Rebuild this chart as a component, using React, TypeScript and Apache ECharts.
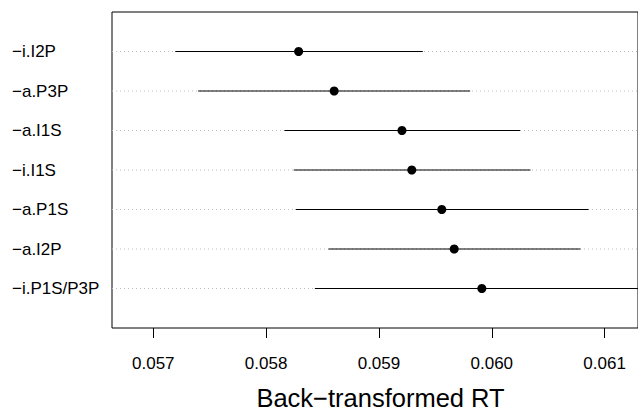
import React, { useEffect, useRef } from "react";
import * as echarts from "echarts";

const categories = ["−i.I2P", "−a.P3P", "−a.I1S", "−i.I1S", "−a.P1S", "−a.I2P", "−i.P1S/P3P"];
const estimate = [0.058288, 0.058603, 0.059204, 0.059291, 0.059557, 0.059667, 0.059912];
const lower = [0.057195, 0.057397, 0.058163, 0.058245, 0.058262, 0.058553, 0.058432];
const upper = [0.059389, 0.059808, 0.060251, 0.060343, 0.060858, 0.060786, 0.06139];
const xTicks = [0.057, 0.058, 0.059, 0.06, 0.061];
const rowPositions = [1, 2, 3, 4, 5, 6, 7];
const xTitle = "Back−transformed RT";

const FONT = '"Liberation Sans", Arial, Helvetica, sans-serif';

export default function App() {
  const ref = useRef<HTMLDivElement>(null);
  useEffect(() => {
    document.body.style.margin = "0";
    if (!ref.current) return;
    const chart = echarts.init(ref.current, null, { renderer: "svg" });
    const ciData = categories.map((_, i) => [lower[i], upper[i], rowPositions[i]]);
    const pointData = categories.map((_, i) => [estimate[i], rowPositions[i]]);
    const guideData = rowPositions.map((r) => [r]);
    chart.setOption({
      animation: false,
      textStyle: { fontFamily: FONT },
      grid: {
        left: 112,
        top: 12,
        width: 537.5,
        height: 316,
        show: true,
        borderColor: "#000",
        borderWidth: 1,
        backgroundColor: "transparent",
      },
      xAxis: {
        type: "value",
        position: "bottom",
        min: 0.056634,
        max: 0.061296,
        axisLine: { show: false, onZero: false },
        splitLine: { show: false },
        axisTick: {
          show: true,
          length: 10,
          lineStyle: { color: "#000", width: 1 },
          customValues: xTicks,
        },
        axisLabel: {
          customValues: xTicks,
          formatter: (v: number) => v.toFixed(3),
          fontSize: 17,
          color: "#000",
          margin: 27,
          fontFamily: FONT,
        },
      },
      yAxis: {
        type: "value",
        min: 0,
        max: 8,
        inverse: true,
        axisLine: { show: false, onZero: false },
        axisTick: { show: false },
        splitLine: { show: false },
        axisLabel: {
          customValues: rowPositions,
          formatter: (v: number) => categories[Math.round(v) - 1] ?? "",
          align: "left",
          margin: 100,
          fontSize: 17,
          color: "#000",
          fontFamily: FONT,
        },
      },
      series: [
        {
          type: "custom",
          data: guideData,
          encode: { y: 0 },
          renderItem: (params: any, api: any) => {
            const cs = params.coordSys;
            const y = api.coord([0.059, api.value(0)])[1];
            return {
              type: "line",
              shape: { x1: cs.x, y1: y, x2: cs.x + cs.width, y2: y },
              style: { stroke: "#bebebe", lineWidth: 1, lineDash: [1, 3] },
            };
          },
          z: 1,
        },
        {
          type: "custom",
          data: ciData,
          encode: { x: [0, 1], y: 2 },
          clip: true,
          renderItem: (params: any, api: any) => {
            const p1 = api.coord([api.value(0), api.value(2)]);
            const p2 = api.coord([api.value(1), api.value(2)]);
            return {
              type: "line",
              shape: { x1: p1[0], y1: p1[1], x2: p2[0], y2: p2[1] },
              style: { stroke: "#000", lineWidth: 1 },
            };
          },
          z: 2,
        },
        {
          type: "scatter",
          data: pointData,
          symbol: "circle",
          symbolSize: 9,
          itemStyle: { color: "#000", opacity: 1 },
          z: 3,
        },
      ],
      graphic: [
        {
          type: "text",
          x: 380.5,
          y: 398,
          style: {
            text: xTitle,
            fontSize: 25.5,
            fontFamily: FONT,
            fill: "#000",
            textAlign: "center",
            textVerticalAlign: "middle",
          },
        },
      ],
    });
    return () => chart.dispose();
  }, []);
  return <div ref={ref} style={{ width: 638, height: 412 }} />;
}
